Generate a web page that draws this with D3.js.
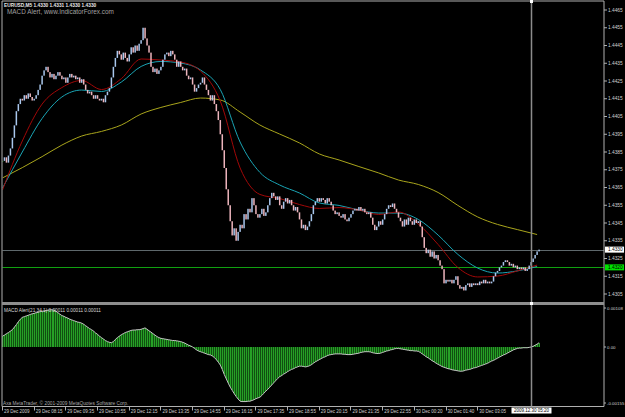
<!DOCTYPE html>
<html>
<head>
<meta charset="utf-8">
<script src="https://cdn.jsdelivr.net/npm/d3@7"></script>
<style>
  body { margin: 0; background: #000; }
  svg { display: block; }
  text { font-family: "Liberation Sans", Arial, sans-serif; }
</style>
</head>
<body>
<div id="chart"></div>
<script>
// EURUSD M5 closes, one per bar (29 Dec 06:55 -> 30 Dec ~05:30)
var closes = [
  1.4380,1.4382,1.4379,1.4383,1.4387,1.4393,1.4400,1.4408,1.4412,1.4415,
  1.4414,1.4417,1.4415,1.4418,1.4416,1.4414,1.4415,1.4417,1.4420,1.4423,
  1.4428,1.4431,1.4433,1.4430,1.4427,1.4429,1.4426,1.4428,1.4430,1.4428,
  1.4426,1.4427,1.4424,1.4427,1.4429,1.4427,1.4428,1.4426,1.4427,1.4424,
  1.4426,1.4423,1.4420,1.4418,1.4419,1.4417,1.4415,1.4417,1.4415,1.4414,
  1.4415,1.4413,1.4417,1.4419,1.4421,1.4427,1.4433,1.4438,1.4442,1.4440,
  1.4437,1.4441,1.4438,1.4436,1.4440,1.4444,1.4441,1.4445,1.4442,1.4446,
  1.4448,1.4455,1.4449,1.4445,1.4441,1.4433,1.4430,1.4432,1.4429,1.4431,
  1.4433,1.4437,1.4440,1.4441,1.4439,1.4442,1.4440,1.4437,1.4433,1.4436,
  1.4433,1.4431,1.4432,1.4428,1.4426,1.4427,1.4423,1.4419,1.4421,1.4423,
  1.4424,1.4427,1.4423,1.4420,1.4417,1.4414,1.4417,1.4412,1.4408,1.4403,
  1.4395,1.4386,1.4376,1.4364,1.4355,1.4346,1.4338,1.4342,1.4335,1.4340,
  1.4344,1.4342,1.4350,1.4347,1.4353,1.4351,1.4359,1.4355,1.4350,1.4348,
  1.4350,1.4353,1.4349,1.4351,1.4355,1.4359,1.4362,1.4360,1.4358,1.4360,
  1.4355,1.4353,1.4357,1.4359,1.4356,1.4358,1.4355,1.4352,1.4354,1.4351,
  1.4347,1.4342,1.4344,1.4341,1.4343,1.4346,1.4350,1.4355,1.4357,1.4359,
  1.4357,1.4359,1.4358,1.4356,1.4359,1.4357,1.4355,1.4352,1.4350,1.4351,
  1.4349,1.4348,1.4350,1.4347,1.4346,1.4348,1.4350,1.4352,1.4353,1.4352,
  1.4354,1.4352,1.4353,1.4351,1.4350,1.4351,1.4348,1.4344,1.4341,1.4343,
  1.4346,1.4344,1.4347,1.4350,1.4353,1.4355,1.4354,1.4356,1.4353,1.4351,
  1.4348,1.4346,1.4343,1.4347,1.4344,1.4348,1.4346,1.4344,1.4347,1.4345,
  1.4346,1.4343,1.4337,1.4331,1.4328,1.4330,1.4326,1.4329,1.4325,1.4327,
  1.4324,1.4321,1.4319,1.4311,1.4313,1.4312,1.4313,1.4311,1.4313,1.4315,
  1.4310,1.4308,1.4309,1.4307,1.4310,1.4311,1.4309,1.4311,1.4310,1.4311,
  1.4310,1.4312,1.4311,1.4313,1.4311,1.4312,1.4311,1.4312,1.4315,1.4317,
  1.4318,1.4320,1.4321,1.4323,1.4324,1.4323,1.4321,1.4322,1.4320,1.4321,
  1.4319,1.4320,1.4319,1.4320,1.4318,1.4319,1.4321,1.4323,1.4325,1.4327,
  1.4329,1.4330
];

// moving averages, read every 10th bar
var maStep = 10;
var maRed = [1.43636,1.43912,1.44120,1.44213,1.44253,1.44202,1.44263,1.44374,1.44368,1.44357,
  1.44306,1.44137,1.43760,1.43611,1.43588,1.43554,1.43532,1.43537,1.43523,1.43498,
  1.43512,1.43444,1.43329,1.43199,1.43146,1.43151,1.43180,1.43213];
var maCyan = [1.43647,1.43850,1.44039,1.44160,1.44199,1.44191,1.44244,1.44332,1.44360,1.44351,
  1.44312,1.44202,1.43906,1.43735,1.43664,1.43619,1.43563,1.43549,1.43523,1.43506,
  1.43506,1.43470,1.43382,1.43273,1.43196,1.43168,1.43180,1.43205];
var maYellow = [1.43704,1.43762,1.43824,1.43889,1.43940,1.43966,1.44002,1.44064,1.44101,1.44129,
  1.44154,1.44143,1.44075,1.44002,1.43951,1.43901,1.43839,1.43805,1.43768,1.43732,
  1.43692,1.43667,1.43622,1.43549,1.43484,1.43442,1.43413,1.43385];

// MACD Alert(21,34,1), one value per bar
var macd = [
  30e-5,33e-5,37e-5,40e-5,44e-5, 48e-5,55e-5,62e-5,70e-5,77e-5,
  82e-5,84e-5,86e-5,88e-5,90e-5, 92e-5,93e-5,95e-5,96e-5,98e-5,
  99e-5,100e-5,101e-5,102e-5,103e-5, 103e-5,102e-5,99e-5,95e-5,91e-5,
  87e-5,85e-5,82e-5,80e-5,77e-5, 75e-5,73e-5,71e-5,69e-5,68e-5,
  66e-5,63e-5,59e-5,55e-5,51e-5, 48e-5,44e-5,39e-5,35e-5,30e-5,
  26e-5,22e-5,18e-5,15e-5,13e-5, 12e-5,15e-5,21e-5,26e-5,30e-5,
  34e-5,37e-5,40e-5,42e-5,44e-5, 46e-5,47e-5,47e-5,48e-5,48e-5,
  49e-5,51e-5,53e-5,49e-5,45e-5, 41e-5,37e-5,33e-5,29e-5,26e-5,
  24e-5,23e-5,22e-5,21e-5,20e-5, 19e-5,18e-5,18e-5,17e-5,16e-5,
  15e-5,13e-5,11e-5,8e-5,5e-5, 3e-5,0,-4e-5,-8e-5,-11e-5,
  -13e-5,-15e-5,-17e-5,-19e-5,-21e-5, -22e-5,-25e-5,-29e-5,-35e-5,-42e-5,
  -50e-5,-62e-5,-76e-5,-88e-5,-100e-5, -111e-5,-120e-5,-129e-5,-137e-5,-144e-5,
  -150e-5,-151e-5,-151e-5,-151e-5,-150e-5, -150e-5,-148e-5,-146e-5,-143e-5,-141e-5,
  -139e-5,-134e-5,-128e-5,-122e-5,-117e-5, -111e-5,-105e-5,-99e-5,-93e-5,-87e-5,
  -82e-5,-79e-5,-75e-5,-72e-5,-68e-5, -65e-5,-62e-5,-60e-5,-57e-5,-55e-5,
  -53e-5,-53e-5,-54e-5,-55e-5,-54e-5, -52e-5,-49e-5,-45e-5,-41e-5,-38e-5,
  -35e-5,-32e-5,-29e-5,-27e-5,-24e-5, -22e-5,-21e-5,-20e-5,-19e-5,-19e-5,
  -19e-5,-19e-5,-20e-5,-20e-5,-21e-5, -21e-5,-21e-5,-20e-5,-19e-5,-18e-5,
  -17e-5,-15e-5,-14e-5,-13e-5,-13e-5, -13e-5,-14e-5,-16e-5,-17e-5,-18e-5,
  -18e-5,-17e-5,-15e-5,-13e-5,-11e-5, -10e-5,-8e-5,-7e-5,-5e-5,-4e-5,
  -4e-5,-5e-5,-6e-5,-7e-5,-8e-5, -9e-5,-10e-5,-10e-5,-11e-5,-11e-5,
  -12e-5,-15e-5,-19e-5,-23e-5,-27e-5, -30e-5,-34e-5,-38e-5,-41e-5,-45e-5,
  -48e-5,-51e-5,-54e-5,-56e-5,-58e-5, -60e-5,-61e-5,-63e-5,-64e-5,-65e-5,
  -66e-5,-67e-5,-67e-5,-66e-5,-64e-5, -63e-5,-62e-5,-60e-5,-58e-5,-57e-5,
  -55e-5,-53e-5,-51e-5,-49e-5,-47e-5, -45e-5,-42e-5,-39e-5,-37e-5,-34e-5,
  -31e-5,-28e-5,-25e-5,-22e-5,-20e-5, -17e-5,-14e-5,-11e-5,-8e-5,-6e-5,
  -4e-5,-3e-5,-3e-5,-2e-5,-2e-5, -2e-5,-1e-5,0,2e-5,5e-5,
  8e-5,12e-5
];

var priceTicks = [1.4465,1.4455,1.4445,1.4435,1.4425,1.4415,1.4405,1.4395,1.4385,
  1.4375,1.4365,1.4355,1.4345,1.4335,1.4325,1.4315,1.4305];
var macdTicks = [0.00108, 0, -0.00155];
var macdTickLabels = ["0.00108", "0.00", "-0.00155"];

var timeLabels = ["29 Dec 2009","29 Dec 08:15","29 Dec 09:35","29 Dec 10:55","29 Dec 12:15",
  "29 Dec 13:35","29 Dec 14:55","29 Dec 16:15","29 Dec 17:35","29 Dec 18:55","29 Dec 20:15",
  "29 Dec 21:35","29 Dec 22:55","30 Dec 00:20","30 Dec 01:40","30 Dec 03:05"];
var barsPerLabel = 16;

var bidPrice = 1.4330;
var alertPrice = 1.4320;
var cursorBar = 267;
var cursorTime = "2009.12.30 05:20";

var W = 625, H = 417;
var box = {left: 2, right: 604, top: 1, mainBottom: 302, subTop: 305, subBottom: 406.5};

var svg = d3.select("#chart").append("svg")
  .attr("width", W).attr("height", H)
  .style("background", "#000");

var x = d3.scaleLinear().domain([0, closes.length - 1]).range([2.5, 2.5 + (closes.length - 1) * 1.98]);
var y = d3.scaleLinear().domain([1.4305, 1.4465]).range([294, 10]);
var yM = d3.scaleLinear().domain([-0.00155, 0.00108]).range([403, 308]);

// snap to pixel centres so 1px marks stay sharp
function px(i){ return Math.round(x(i) - 0.5) + 0.5; }

svg.append("clipPath").attr("id", "mainClip").append("rect")
  .attr("x", box.left + 0.5).attr("y", box.top + 0.5)
  .attr("width", box.right - box.left - 0.5).attr("height", box.mainBottom - box.top - 0.5);

var main = svg.append("g").attr("clip-path", "url(#mainClip)");

// horizontal lines: bid and alert level
main.append("line")
  .attr("x1", box.left).attr("x2", box.right)
  .attr("y1", Math.round(y(bidPrice)) + 0.5).attr("y2", Math.round(y(bidPrice)) + 0.5)
  .style("stroke", "#5e686c").style("stroke-width", 1);
main.append("line")
  .attr("x1", box.left).attr("x2", box.right)
  .attr("y1", Math.round(y(alertPrice)) + 0.5).attr("y2", Math.round(y(alertPrice)) + 0.5)
  .style("stroke", "#10a010").style("stroke-width", 1);

// moving averages
var maLine = d3.line()
  .x(function(d, i){ return x(i * maStep); })
  .y(function(d){ return y(d); })
  .curve(d3.curveMonotoneX);

[[maYellow, "#a9a51c"], [maCyan, "#1aa4b4"], [maRed, "#a00808"]].forEach(function(m){
  main.append("path").datum(m[0])
    .attr("d", maLine)
    .style("fill", "none")
    .style("stroke", m[1])
    .style("stroke-width", 1);
});

// candles (open = previous close)
main.selectAll(".candle")
  .data(closes)
  .enter()
  .append("rect")
  .attr("class", "candle")
  .attr("x", function(d, i){ return x(i) - 0.75; })
  .attr("width", 1.5)
  .attr("y", function(d, i){
    var o = i > 0 ? closes[i - 1] : d;
    return Math.min(y(o), y(d));
  })
  .attr("height", function(d, i){
    var o = i > 0 ? closes[i - 1] : d;
    return Math.max(1, Math.abs(y(o) - y(d)));
  })
  .style("fill", function(d, i){
    var o = i > 0 ? closes[i - 1] : d;
    if (d > o) return "#a8c6ec";
    if (d < o) return "#ecb4bc";
    return "#22a622";
  });

// MACD histogram: dark green body, brighter bar lines, light signal line
var sub = svg.append("g");
sub.append("path").datum(macd)
  .attr("d", d3.area()
    .x(function(d, i){ return x(i); })
    .y0(yM(0))
    .y1(function(d){ return yM(d); }))
  .style("fill", "#114e11");

sub.selectAll(".hist")
  .data(macd)
  .enter()
  .append("line")
  .attr("class", "hist")
  .attr("x1", function(d, i){ return px(i); })
  .attr("x2", function(d, i){ return px(i); })
  .attr("y1", yM(0))
  .attr("y2", function(d){ return yM(d); })
  .style("stroke", "#26a026")
  .style("stroke-width", 1)
  .style("shape-rendering", "crispEdges");

sub.append("path").datum(macd)
  .attr("d", d3.line().x(function(d, i){ return x(i); }).y(function(d){ return yM(d); }))
  .style("fill", "none")
  .style("stroke", "#c4c4c4")
  .style("stroke-width", 1);

// frames
var frameColor = "#b0b0b0";
svg.append("line").attr("x1", box.left).attr("x2", box.right).attr("y1", box.top).attr("y2", box.top)
  .style("stroke", frameColor);
svg.append("line").attr("x1", box.left).attr("x2", box.left).attr("y1", box.top).attr("y2", box.subBottom)
  .style("stroke", frameColor);
svg.append("line").attr("x1", box.right).attr("x2", box.right).attr("y1", box.top).attr("y2", box.subBottom)
  .style("stroke", frameColor);
svg.append("rect").attr("x", box.left).attr("y", box.mainBottom)
  .attr("width", box.right - box.left).attr("height", box.subTop - box.mainBottom)
  .style("fill", "#8e8e8e");
svg.append("line").attr("x1", box.left).attr("x2", box.right).attr("y1", box.subBottom).attr("y2", box.subBottom)
  .style("stroke", frameColor);

// cursor line
var cx = px(cursorBar);
svg.append("line")
  .attr("x1", cx).attr("x2", cx).attr("y1", box.top).attr("y2", box.subBottom)
  .style("stroke", "#8c8c8c").style("stroke-width", 1.5);
svg.append("rect").attr("x", cx - 1.5).attr("y", box.top - 1).attr("width", 3).attr("height", 3).style("fill", "#fff");
svg.append("rect").attr("x", cx - 1.5).attr("y", box.mainBottom).attr("width", 3).attr("height", 3).style("fill", "#fff");

// price axis
var axisText = "#d0d0d0";
var pAxis = svg.append("g");
pAxis.selectAll(".pt").data(priceTicks).enter().append("line")
  .attr("x1", box.right).attr("x2", box.right + 3)
  .attr("y1", function(d){ return y(d); }).attr("y2", function(d){ return y(d); })
  .style("stroke", frameColor);
pAxis.selectAll(".pl").data(priceTicks).enter().append("text")
  .attr("x", box.right + 4).attr("y", function(d){ return y(d); })
  .attr("dy", "0.35em")
  .style("font-size", "4.8px").style("fill", axisText)
  .text(function(d){ return d3.format(".4f")(d); });

// price boxes
[[bidPrice, "#ffffff"], [alertPrice, "#00e000"]].forEach(function(b){
  pAxis.append("rect")
    .attr("x", box.right + 1).attr("y", y(b[0]) - 3)
    .attr("width", 19).attr("height", 6)
    .style("fill", b[1]);
  pAxis.append("text")
    .attr("x", box.right + 4).attr("y", y(b[0])).attr("dy", "0.35em")
    .style("font-size", "4.8px").style("fill", "#000")
    .text(d3.format(".4f")(b[0]));
});

// macd axis
pAxis.selectAll(".mt").data(macdTicks).enter().append("line")
  .attr("x1", box.right).attr("x2", box.right + 2)
  .attr("y1", function(d){ return yM(d); }).attr("y2", function(d){ return yM(d); })
  .style("stroke", frameColor);
pAxis.selectAll(".ml").data(macdTicks).enter().append("text")
  .attr("x", box.right + 3).attr("y", function(d){ return yM(d); })
  .attr("dy", "0.35em")
  .style("font-size", "4.4px").style("fill", axisText)
  .text(function(d, i){ return macdTickLabels[i]; });

// time axis
var tAxis = svg.append("g");
tAxis.selectAll(".tt").data(timeLabels).enter().append("line")
  .attr("x1", function(d, i){ return px(i * barsPerLabel); })
  .attr("x2", function(d, i){ return px(i * barsPerLabel); })
  .attr("y1", box.subBottom).attr("y2", box.subBottom + 4)
  .style("stroke", frameColor);
tAxis.selectAll(".tl").data(timeLabels).enter().append("text")
  .attr("x", function(d, i){ return x(i * barsPerLabel) + 1.5; })
  .attr("y", 413)
  .style("font-size", "4.5px").style("fill", axisText)
  .text(function(d){ return d; });
tAxis.append("rect")
  .attr("x", cx - 20).attr("y", 407.5).attr("width", 40).attr("height", 6)
  .style("fill", "#fff");
tAxis.append("text")
  .attr("x", cx).attr("y", 412.2).attr("text-anchor", "middle")
  .style("font-size", "4.5px").style("fill", "#000")
  .text(cursorTime);

// captions
svg.append("text").attr("x", 4).attr("y", 7)
  .style("font-size", "4.8px").style("font-weight", "bold").style("fill", "#e8e8e8")
  .text("EURUSD,M5  1.4330 1.4331 1.4330 1.4330");
svg.append("text").attr("x", 7).attr("y", 13.5)
  .style("font-size", "6.4px").style("fill", "#a0a0a0")
  .text("MACD Alert, www.IndicatorForex.com");
svg.append("text").attr("x", 4).attr("y", 311.5)
  .style("font-size", "4.7px").style("fill", "#d8d8d8")
  .text("MACD Alert(21,34,1) 0.00011 0.00011 0.00011");
svg.append("text").attr("x", 3).attr("y", 405)
  .style("font-size", "4.8px").style("fill", "#a8a8a8")
  .text("Axa MetaTrader, \u00a9 2001-2009 MetaQuotes Software Corp.");
</script>
</body>
</html>
